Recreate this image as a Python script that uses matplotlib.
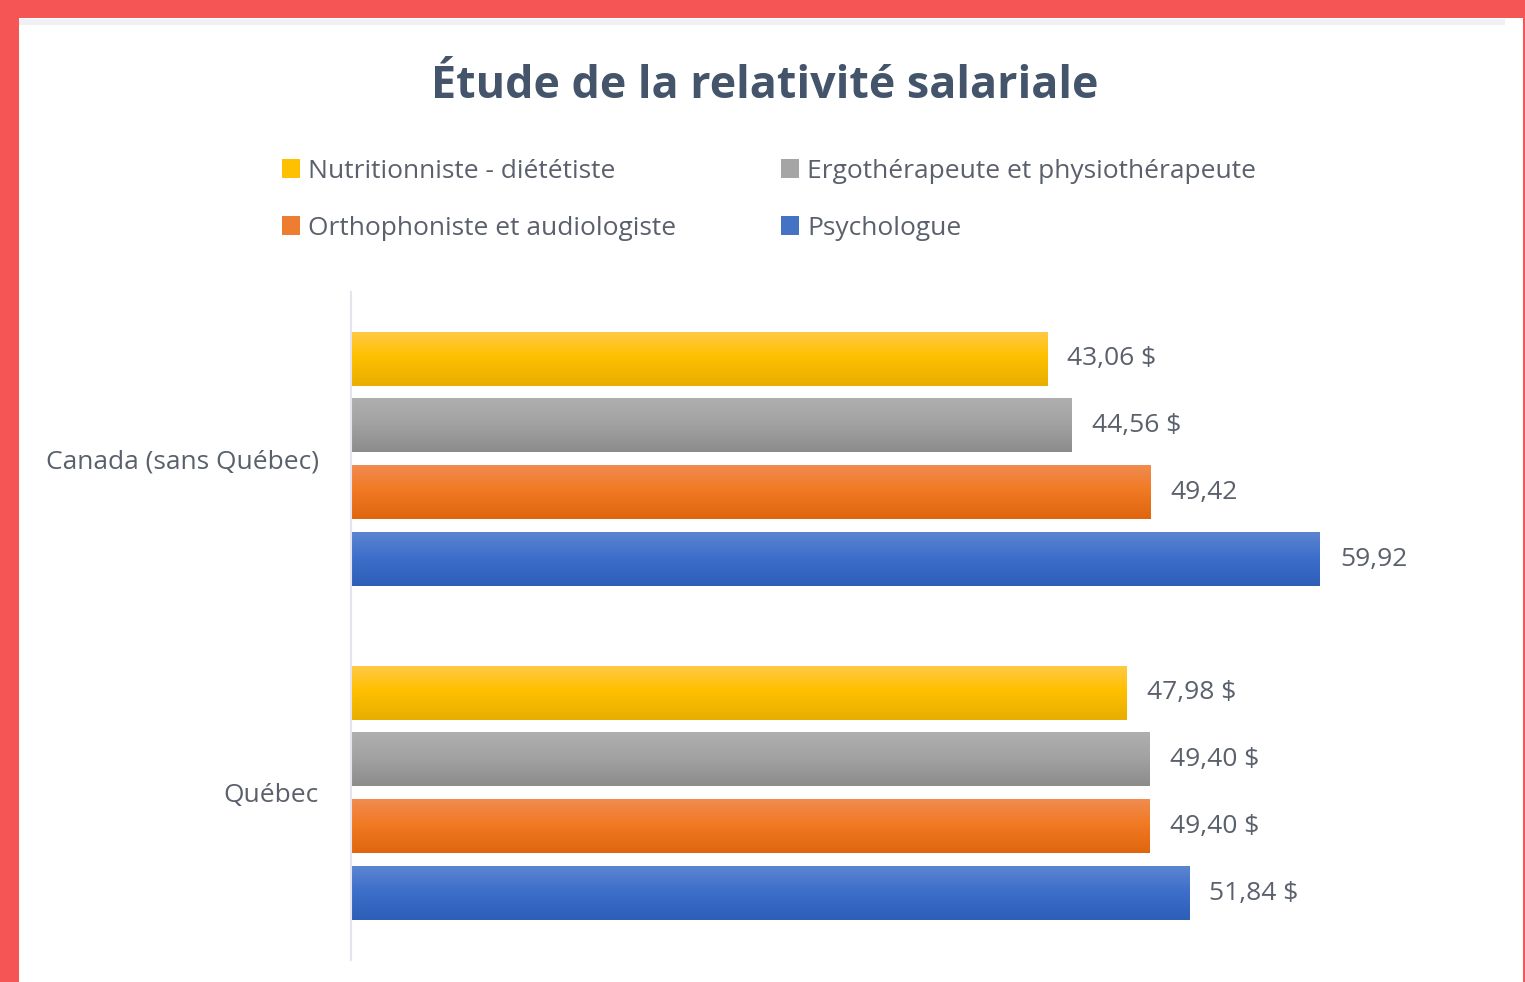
import numpy as np
import matplotlib.pyplot as plt
from matplotlib.colors import to_rgb
from matplotlib.patches import Rectangle

plt.rcParams['font.family'] = ['Open Sans', 'DejaVu Sans']

# data
regions = ['Canada (sans Québec)', 'Québec']
series = ['Nutritionniste - diététiste', 'Ergothérapeute et physiothérapeute',
          'Orthophoniste et audiologiste', 'Psychologue']
values = [
    [43.06, 44.56, 49.42, 59.92],   # Canada (sans Québec)
    [47.98, 49.40, 49.40, 51.84],   # Québec
]
labels = [
    ['43,06 $', '44,56 $', '49,42', '59,92'],
    ['47,98 $', '49,40 $', '49,40 $', '51,84 $'],
]

# gradient top -> mid -> bottom for each series
grads = [
    ['#FFC943', '#FFC000', '#E8AE00'],
    ['#AFAFAF', '#A3A3A3', '#8C8C8C'],
    ['#F08B50', '#F27A24', '#E0650F'],
    ['#5C85D0', '#3D6FCB', '#2D5EB8'],
]
solid = ['#FFC000', '#A5A5A5', '#ED7D31', '#4472C4']

W, H = 1525, 982
fig = plt.figure(figsize=(W / 100, H / 100), dpi=100)
fig.patch.set_facecolor('#F55555')
# white panel + faint shadow at its top
fig.patches.append(Rectangle((19 / W, 0), (1523 - 19) / W, (H - 18) / H,
                             transform=fig.transFigure, facecolor='white',
                             edgecolor='none', zorder=-2))
fig.patches.append(Rectangle((19 / W, (H - 25) / H), (1505 - 19) / W, 6 / H,
                             transform=fig.transFigure, facecolor='#F0F0F5',
                             edgecolor='none', zorder=-1))

xmax = 70.0
ax = fig.add_axes([351 / W, 22 / H, xmax * 16.17 / W, 668 / H])
ax.set_facecolor('none')

pitch = 0.2
bh = 0.16
tx = 1 / 16.17
for g, reg in enumerate(regions):
    for s in range(len(series)):
        yc = g + (s - 1.5) * pitch
        v = values[g][s]
        cols = np.array([to_rgb(c) for c in grads[s]])
        t = np.linspace(0, 1, 64)
        grad = np.empty((64, 1, 3))
        for k in range(3):
            grad[:, 0, k] = np.interp(t, [0, 0.45, 1], cols[:, k])
        ax.imshow(grad, extent=(0, v, yc + bh / 2, yc - bh / 2), origin='upper',
                  aspect='auto', interpolation='bilinear', zorder=2)
        ax.text(v + 20 * tx, yc, labels[g][s], va='center', ha='left',
                fontsize=19, color='#5A606C')

ax.set_xlim(0, xmax)
ax.set_ylim(1.5, -0.5)
ax.set_yticks(range(len(regions)))
ax.set_yticklabels(regions, fontsize=19, color='#5A606C')
ax.tick_params(axis='y', length=0, pad=23)
ax.set_xticks([])
for sp in ['top', 'right', 'bottom']:
    ax.spines[sp].set_visible(False)
ax.spines['left'].set_color('#E4E4EC')
ax.spines['left'].set_linewidth(1.5)

fig.text(765 / W, 1 - 86 / H, 'Étude de la relativité salariale', ha='center',
         va='center', fontsize=32.3, fontweight='bold', color='#44546A')

handles = [Rectangle((0, 0), 1, 1, facecolor=c, edgecolor='none') for c in solid]
order = [0, 2, 1, 3]
leg = fig.legend([handles[i] for i in order], [series[i] for i in order], ncol=2,
                 loc='upper left', bbox_to_anchor=(258 / W, 1 - 135 / H),
                 frameon=False, fontsize=19, handlelength=0.7, handleheight=0.7,
                 handletextpad=0.3, columnspacing=3.95, labelspacing=1.22,
                 labelcolor='#5A606C')

fig.savefig('out.png', dpi=100, facecolor=fig.get_facecolor())
